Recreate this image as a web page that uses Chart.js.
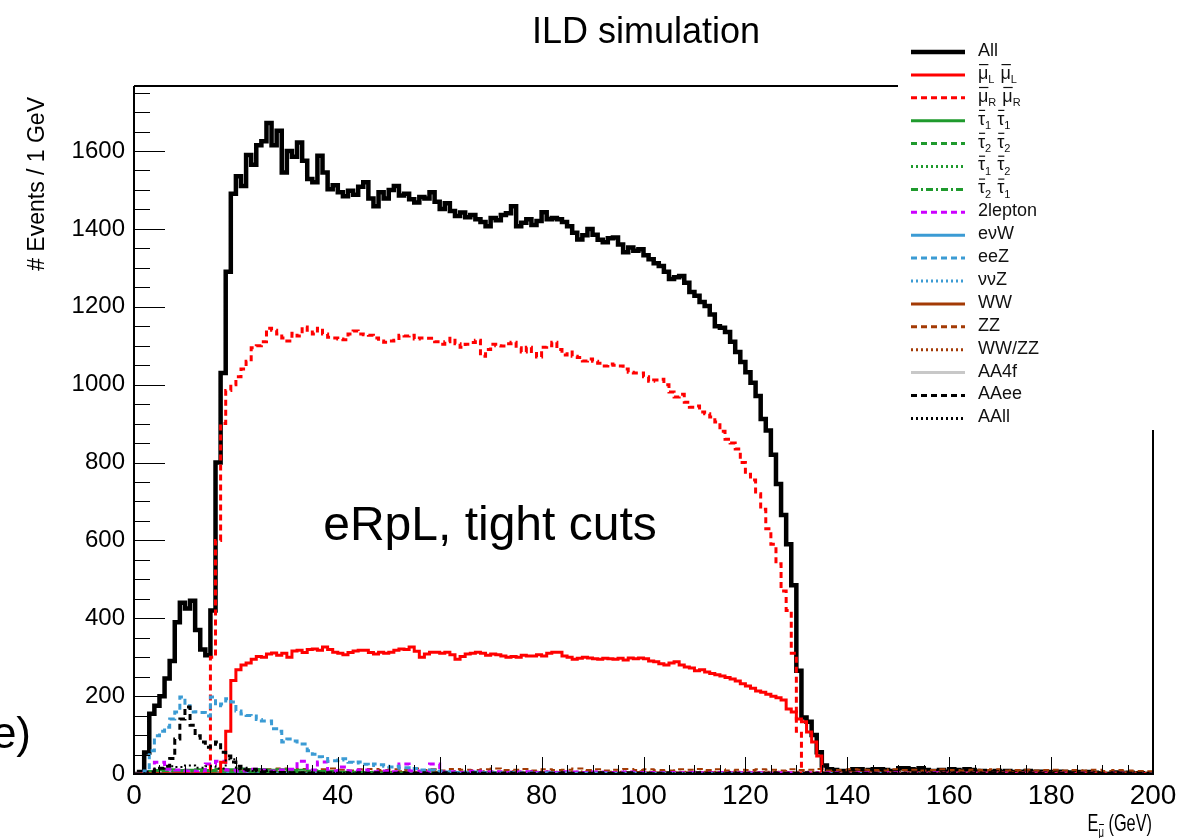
<!DOCTYPE html>
<html><head><meta charset="utf-8">
<script src="https://cdn.jsdelivr.net/npm/chart.js@4.4.1/dist/chart.umd.min.js"></script>
<style>html,body{margin:0;padding:0;background:#fff;overflow:hidden}</style>
</head><body>
<canvas id="c" width="1195" height="838"></canvas>
<script>
// ---------------- data (1 GeV bins unless noted) ----------------
const xTickLabels = [0,20,40,60,80,100,120,140,160,180,200];
const yTickLabels = [0,200,400,600,800,1000,1200,1400,1600];
const yMax = 1767;

const allEvents = [
0,5,55,155,175,200,245,290,390,440,
425,445,370,320,305,420,800,1030,1290,1490,
1535,1510,1590,1565,1615,1625,1672,1615,1652,1545,
1600,1585,1622,1575,1528,1520,1588,1545,1502,1512,
1494,1484,1498,1488,1508,1520,1478,1458,1494,1478,
1500,1510,1486,1490,1476,1468,1482,1478,1494,1470,
1451,1466,1446,1433,1442,1430,1436,1425,1418,1407,
1428,1422,1436,1440,1458,1407,1416,1425,1410,1420,
1443,1425,1428,1425,1418,1407,1390,1373,1384,1400,
1385,1372,1366,1376,1378,1360,1340,1352,1344,1348,
1332,1322,1312,1305,1290,1271,1276,1279,1262,1238,
1228,1212,1202,1180,1150,1146,1135,1110,1084,1058,
1032,1005,971,912,882,820,745,665,590,485,
265,145,134,100,56,22,12,10,8,8,
8,12,12,8,10,12,12,10,8,8,
15,15,12,10,15,10,8,8,10,6,
12,10,8,12,10,6,8,5,6,8,
5,8,5,4,6,8,5,6,4,5,
4,6,5,4,3,5,4,5,3,2,
0,0,4,3,0,3,0,2,0,0];

const smuLL = [
0,0,0,0,0,0,0,0,0,0,
0,0,0,0,0,0,0,30,110,240,
268,280,285,295,302,300,308,311,305,310,
300,316,318,312,320,321,318,326,320,313,
310,306,312,316,318,318,312,308,313,310,
313,318,321,320,326,315,300,308,313,313,
310,313,306,295,302,308,310,313,310,305,
308,306,303,300,302,300,305,303,303,306,
303,310,313,313,303,300,295,297,300,298,
296,295,297,296,295,297,293,298,296,298,
296,290,288,283,280,285,288,280,275,272,
265,268,262,258,255,252,248,244,239,232,
226,220,213,210,205,200,196,190,167,159,
141,134,108,82,46,0,0,0,0,0,
0,0,0,0,0,0,0,0,0,0, 0,0,0,0,0,0,0,0,0,0,
0,0,0,0,0,0,0,0,0,0, 0,0,0,0,0,0,0,0,0,0,
0,0,0,0,0,0,0,0,0,0, 0,0,0,0,0,0,0,0,0,0];

const smuRR = [
0,0,0,0,0,0,0,0,0,0,
0,0,0,0,0,300,600,900,985,1000,
1020,1040,1060,1095,1100,1110,1145,1140,1130,1120,
1112,1132,1125,1148,1140,1130,1145,1130,1122,1120,
1117,1115,1130,1138,1130,1128,1127,1120,1112,1109,
1112,1114,1127,1125,1127,1117,1120,1119,1119,1110,
1104,1110,1119,1105,1096,1104,1108,1114,1073,1090,
1104,1100,1099,1105,1109,1095,1084,1096,1085,1071,
1096,1100,1109,1090,1076,1084,1073,1070,1061,1066,
1060,1055,1048,1053,1050,1048,1040,1032,1030,1030,
1020,1009,1012,1014,1000,981,968,975,955,942,
945,930,925,917,904,880,860,850,835,800,
770,755,720,680,630,590,540,470,420,310,
110,0,0,0,0,0,0,0,0,0,
0,0,0,0,0,0,0,0,0,0, 0,0,0,0,0,0,0,0,0,0,
0,0,0,0,0,0,0,0,0,0, 0,0,0,0,0,0,0,0,0,0,
0,0,0,0,0,0,0,0,0,0, 0,0,0,0,0,0,0,0,0,0];

const eeZ = [
0,0,8,60,98,110,120,141,159,198,
175,159,160,158,149,198,175,180,193,185,
162,154,150,149,140,136,136,116,110,82,
90,85,82,77,60,51,44,40,33,34,
36,39,30,28,31,25,22,26,24,20,
18,20,15,16,12,14,10,8,10,6,
8,5,6,4,5,3,4,5,3,4,
3,4,2,3,4,2,3,2,3,2,
2,3,2,2,3,2,1,2,2,1,
2,1,2,1,1,2,1,1,2,1,
1,1,1,2,1,1,0,1,1,1,
1,0,1,1,0,1,0,1,1,0,
1,0,1,0,1,0,0,1,0,1,
0,1,0,0,1,0,0,1,0,0,
0,0,1,0,0,0,1,0,0,0, 0,0,0,1,0,0,0,0,0,0,
0,0,0,0,0,0,0,0,0,0, 0,0,0,0,0,0,0,0,0,0,
0,0,0,0,0,0,0,0,0,0, 0,0,0,0,0,0,0,0,0,0];

const AAee = [
0,0,0,5,10,15,20,40,90,141,
172,125,98,82,69,72,82,56,46,31,
20,15,10,12,8,6,5,4,3,4,
3,3,2,3,2,3,2,2,3,2,
2,3,2,2,3,2,2,3,2,2,
2,2,3,2,2,2,3,2,2,2,
2,3,2,2,2,2,3,2,2,2,
2,2,2,3,2,2,2,2,2,3,
2,2,2,2,3,2,2,2,2,2,
2,3,2,2,2,2,2,3,2,2,
2,2,2,2,3,2,2,2,2,2,
3,2,2,2,2,2,2,3,2,2,
2,2,2,2,2,3,2,2,2,2,
2,2,3,2,2,2,2,2,2,3,
2,2,2,2,2,2,3,2,2,2, 2,2,2,3,2,2,2,2,2,2,
2,3,2,2,2,2,2,2,3,2, 2,2,2,2,2,3,2,2,2,2,
2,2,2,3,2,2,2,2,2,2, 2,2,3,2,2,2,2,2,2,0];

// 2 GeV bins for the small backgrounds
const stau11 = [0,8,10,12,10,11,12,10,13,12,14,12,13,11,12,10,11,9,8,8,6,6,5,5,4,4,4,3,3,3,3,3,2,2,2,2,2,2,2,2,1,1,1,1,1,1,1,1,1,1,1,1,1,1,1,1,1,1,1,1,1,1,1,1,1,1,0,1,1,0,0,0,0,0,0,0,0,0,0,0,0,0,0,0,0,0,0,0,0,0,0,0,0,0,0,0,0,0,0,0];
const stau22 = [0,3,4,5,4,5,6,5,6,5,5,6,5,4,5,4,4,3,3,3,3,2,2,2,2,2,2,1,1,1,1,1,1,1,1,1,1,1,1,1,1,1,1,1,1,1,1,1,1,1,1,0,1,0,1,0,0,0,0,0,0,0,0,0,0,0,0,0,0,0,0,0,0,0,0,0,0,0,0,0,0,0,0,0,0,0,0,0,0,0,0,0,0,0,0,0,0,0,0,0];
const stau12 = [0,4,6,7,6,7,8,7,8,7,7,8,7,6,6,5,5,4,4,4,3,3,3,2,2,2,2,2,2,2,1,1,1,1,1,1,1,1,1,1,1,1,1,1,1,1,1,1,1,1,0,0,0,0,0,0,0,0,0,0,0,0,0,0,0,0,0,0,0,0,0,0,0,0,0,0,0,0,0,0,0,0,0,0,0,0,0,0,0,0,0,0,0,0,0,0,0,0,0,0];
const stau21 = [0,3,5,6,5,6,7,6,7,6,7,6,6,5,5,5,4,4,3,3,3,3,2,2,2,2,2,1,1,1,1,1,1,1,1,1,1,1,1,1,1,1,1,1,1,0,0,0,0,0,0,0,0,0,0,0,0,0,0,0,0,0,0,0,0,0,0,0,0,0,0,0,0,0,0,0,0,0,0,0,0,0,0,0,0,0,0,0,0,0,0,0,0,0,0,0,0,0,0,0];
const twoLepton = [0,5,30,12,10,8,6,26,33,10,8,12,10,8,10,12,33,10,31,8,18,8,10,6,8,6,26,8,6,26,5,6,4,7,5,6,4,5,6,4,5,4,6,5,4,5,4,3,5,4,4,3,4,3,4,3,3,4,3,3,3,3,2,3,3,2,3,2,3,2,2,3,2,2,3,2,2,2,3,2,2,2,2,2,2,2,1,2,2,2,1,2,1,2,1,1,2,1,1,0];
const enuW = [0,2,3,4,3,4,4,5,4,4,5,4,4,4,3,4,3,3,3,3,3,2,3,2,2,2,2,2,2,2,2,1,2,1,1,1,1,1,1,1,1,1,1,1,1,1,1,1,1,1,1,1,1,1,1,1,1,1,1,0,1,0,1,0,0,0,0,0,0,0,0,0,0,0,0,0,0,0,0,0,0,0,0,0,0,0,0,0,0,0,0,0,0,0,0,0,0,0,0,0];
const nunuZ = [0,3,5,6,6,7,6,7,6,6,7,6,5,6,5,5,4,5,4,4,4,3,3,3,3,3,2,2,2,2,2,2,2,1,2,1,1,1,1,1,1,1,1,1,1,1,1,1,1,1,1,1,1,1,1,1,1,1,1,1,0,1,0,1,0,0,0,0,0,0,0,0,0,0,0,0,0,0,0,0,0,0,0,0,0,0,0,0,0,0,0,0,0,0,0,0,0,0,0,0];
const WW = [0,2,3,3,4,4,4,5,4,5,5,4,5,5,4,5,5,4,5,5,4,5,4,5,5,4,5,4,4,5,4,5,4,4,5,4,4,5,4,4,5,4,4,4,5,4,4,4,4,5,4,4,4,4,4,4,5,4,4,4,4,4,4,4,4,4,3,4,4,3,4,4,3,4,4,3,4,3,4,3,4,3,3,4,3,3,3,4,3,3,3,3,3,3,3,2,3,3,2,2];
const ZZ = [0,3,5,6,7,8,9,10,12,10,11,13,10,12,14,11,13,10,12,14,11,9,12,13,10,12,11,14,10,12,9,13,11,10,12,14,10,11,13,9,12,10,11,14,10,12,9,11,13,10,12,10,9,12,11,13,10,12,9,11,10,12,11,9,12,10,11,13,9,10,12,11,10,9,12,10,11,9,10,12,10,9,11,10,12,9,10,11,9,10,11,9,10,9,11,8,10,9,8,7];
const WWZZ = [0,2,3,4,5,5,6,6,7,6,7,6,7,7,6,7,6,7,6,7,6,7,7,6,7,6,7,6,6,7,6,7,6,6,7,6,6,7,6,6,7,6,6,6,7,6,6,6,6,7,6,6,6,6,6,6,6,5,6,6,6,5,6,6,5,6,6,5,6,5,6,5,6,5,5,6,5,5,6,5,5,5,5,6,5,5,5,5,5,5,4,5,5,4,5,4,4,4,4,3];
const AA4f = [0,1,2,2,2,2,2,2,2,2,2,2,2,2,1,2,1,2,1,1,1,1,1,1,1,1,1,1,1,1,1,1,1,1,1,1,1,1,1,1,1,1,1,1,1,1,1,1,1,1,1,1,1,1,1,1,1,1,1,1,1,1,1,1,1,1,1,1,1,1,1,1,1,1,1,1,1,1,1,1,1,1,1,1,1,1,1,1,1,1,1,1,1,1,1,1,1,1,1,0];
const AAll = [0,6,14,20,18,22,16,20,14,38,12,8,10,6,5,4,4,3,3,3,3,2,2,2,2,2,2,2,2,2,2,2,2,2,2,2,2,2,2,2,2,2,2,2,2,2,2,2,2,2,2,2,2,2,2,2,2,2,2,2,2,2,2,2,2,2,2,2,2,2,2,2,2,2,2,2,2,2,2,2,2,2,2,2,2,2,2,2,2,2,2,2,2,2,2,2,2,2,2,0];

// ---------------- styles ----------------
const GREEN = '#1f9a2d', BLUE = '#3b9bd4', BROWN = '#a33a05', MAGENTA = '#cc00ff';
const DASH = [6,4], DOT = [2,3], DASHDOT = [7,3,2,3];

function histPoints(vals, width) {
  const pts = vals.map((v, i) => ({x: i * width, y: v}));
  pts.push({x: vals.length * width, y: vals[vals.length - 1]});
  return pts;
}

// legend markup: "~X" = X with bar above, "_X" = subscript X
const series = [
  {label:'All',     data: allEvents, w:1, color:'#000',   lw:4.5, dash:[],      order:100, leg:'All'},
  {label:'smuLL',   data: smuLL,     w:1, color:'#ff0000',lw:3,   dash:[],      order:20, leg:'~μ_L ~μ_L'},
  {label:'smuRR',   data: smuRR,     w:1, color:'#ff0000',lw:3,   dash:DASH,    order:19, leg:'~μ_R ~μ_R'},
  {label:'stau11',  data: stau11,    w:2, color:GREEN,    lw:2,   dash:[],      order:30, leg:'~τ_1 ~τ_1'},
  {label:'stau22',  data: stau22,    w:2, color:GREEN,    lw:2,   dash:DASH,    order:31, leg:'~τ_2 ~τ_2'},
  {label:'stau12',  data: stau12,    w:2, color:GREEN,    lw:2,   dash:DOT,     order:32, leg:'~τ_1 ~τ_2'},
  {label:'stau21',  data: stau21,    w:2, color:GREEN,    lw:2,   dash:DASHDOT, order:33, leg:'~τ_2 ~τ_1'},
  {label:'2lepton', data: twoLepton, w:2, color:MAGENTA,  lw:3,   dash:DASH,    order:25, leg:'2lepton'},
  {label:'enuW',    data: enuW,      w:2, color:BLUE,     lw:2,   dash:[],      order:34, leg:'eνW'},
  {label:'eeZ',     data: eeZ,       w:1, color:BLUE,     lw:3,   dash:DASH,    order:18, leg:'eeZ'},
  {label:'nunuZ',   data: nunuZ,     w:2, color:BLUE,     lw:2,   dash:DOT,     order:35, leg:'ννZ'},
  {label:'WW',      data: WW,        w:2, color:BROWN,    lw:2,   dash:[],      order:36, leg:'WW'},
  {label:'ZZ',      data: ZZ,        w:2, color:BROWN,    lw:2,   dash:DASH,    order:37, leg:'ZZ'},
  {label:'WW/ZZ',   data: WWZZ,      w:2, color:BROWN,    lw:2,   dash:DOT,     order:38, leg:'WW/ZZ'},
  {label:'AA4f',    data: AA4f,      w:2, color:'#c8c8c8',lw:2.5, dash:[],      order:40, leg:'AA4f'},
  {label:'AAee',    data: AAee,      w:1, color:'#000',   lw:3,   dash:DASH,    order:17, leg:'AAee'},
  {label:'AAll',    data: AAll,      w:2, color:'#000',   lw:2,   dash:DOT,     order:16, leg:'AAll'}
];

const datasets = series.map(s => ({
  label: s.label,
  data: histPoints(s.data, s.w),
  borderColor: s.color,
  borderWidth: s.lw,
  borderDash: s.dash,
  stepped: 'before',
  pointRadius: 0,
  fill: false,
  order: s.order,
  borderCapStyle: 'butt',
  borderJoinStyle: 'miter'
}));

const FONT = '"Liberation Sans", Arial, Helvetica, sans-serif';

function drawRich(ctx, str, x, y, size) {
  let cx = x;
  let i = 0;
  while (i < str.length) {
    const c = str[i];
    if (c === '_' && i + 1 < str.length) {
      ctx.font = Math.round(size * 0.62) + 'px ' + FONT;
      ctx.fillText(str[i + 1], cx, y + size * 0.35);
      cx += ctx.measureText(str[i + 1]).width + 1;
      i += 2;
    } else if (c === '~' && i + 1 < str.length) {
      ctx.font = size + 'px ' + FONT;
      const ch = str[i + 1];
      const w = ctx.measureText(ch).width;
      ctx.fillText(ch, cx, y);
      ctx.fillRect(cx + 1, y - size * 0.55, w - 1, 1.2);
      cx += w;
      i += 2;
    } else {
      ctx.font = size + 'px ' + FONT;
      ctx.fillText(c, cx, y);
      cx += ctx.measureText(c).width;
      i += 1;
    }
  }
  return cx;
}

const decorPlugin = {
  id: 'decor',
  afterDraw(chart) {
    const {ctx, chartArea: a, scales: {x, y}} = chart;
    ctx.save();
    // inner ticks
    ctx.strokeStyle = '#000';
    ctx.lineWidth = 1;
    ctx.beginPath();
    for (let v = 0; v <= yMax; v += 50) {
      const py = Math.round(y.getPixelForValue(v)) + 0.5;
      const len = (v % 200 === 0) ? 31 : 16;
      ctx.moveTo(a.left, py); ctx.lineTo(a.left + len, py);
    }
    for (let v = 0; v <= 200; v += 5) {
      const px = Math.round(x.getPixelForValue(v)) + 0.5;
      const len = (v % 20 === 0) ? 17 : 9;
      ctx.moveTo(px, a.bottom); ctx.lineTo(px, a.bottom - len);
    }
    ctx.stroke();
    // frame
    ctx.lineWidth = 2;
    ctx.beginPath();
    ctx.moveTo(a.left, a.top); ctx.lineTo(a.left, a.bottom); ctx.lineTo(a.right, a.bottom);
    ctx.lineTo(a.right, 430);
    ctx.moveTo(a.left, a.top); ctx.lineTo(898, a.top);
    ctx.stroke();

    // legend
    for (let r = 0; r < series.length; r++) {
      const s = series[r];
      const ly = 52 + r * 22.9;
      ctx.beginPath();
      ctx.strokeStyle = s.color;
      ctx.lineWidth = r === 0 ? 4.5 : 3;
      ctx.setLineDash(s.dash);
      ctx.moveTo(911, ly); ctx.lineTo(965, ly);
      ctx.stroke();
      ctx.setLineDash([]);
      ctx.fillStyle = '#111';
      ctx.textBaseline = 'middle';
      ctx.textAlign = 'left';
      drawRich(ctx, s.leg, 978, ly - 1, 18);
    }

    // texts
    ctx.fillStyle = '#000';
    ctx.textBaseline = 'alphabetic';
    ctx.textAlign = 'center';
    ctx.font = '36px ' + FONT;
    ctx.fillText('ILD simulation', 646, 43);
    ctx.font = '48px ' + FONT;
    ctx.fillText('eRpL, tight cuts', 490, 540);
    ctx.textAlign = 'right';
    ctx.font = '44px ' + FONT;
    ctx.fillText('e)', 31, 748);

    // y title (rotated, aligned to top)
    ctx.save();
    ctx.translate(44, 97);
    ctx.rotate(-Math.PI / 2);
    ctx.textAlign = 'right';
    ctx.font = '23px ' + FONT;
    ctx.fillText('# Events / 1 GeV', 0, 0);
    ctx.restore();

    // x title (condensed, right aligned at frame edge)
    ctx.save();
    ctx.textAlign = 'left';
    const sx = 0.68;
    ctx.font = '24px ' + FONT;
    const wE = ctx.measureText('E').width;
    const wG = ctx.measureText(' (GeV)').width;
    ctx.font = '14px ' + FONT;
    const wM = ctx.measureText('μ').width;
    const total = (wE + wM + wG) * sx;
    ctx.translate(1152 - total, 831);
    ctx.scale(sx, 1);
    let cx = 0;
    ctx.font = '24px ' + FONT;
    ctx.fillText('E', cx, 0);
    cx += wE;
    ctx.font = '14px ' + FONT;
    ctx.fillText('μ', cx, 6);
    ctx.fillRect(cx + 1, -7, wM - 1, 1);
    cx += wM;
    ctx.font = '24px ' + FONT;
    ctx.fillText(' (GeV)', cx, 0);
    ctx.restore();
    ctx.restore();
  }
};

new Chart(document.getElementById('c'), {
  type: 'line',
  data: {datasets},
  options: {
    responsive: false,
    animation: false,
    devicePixelRatio: 1,
    layout: {padding: {left: 0, right: 42, top: 86, bottom: 0}},
    plugins: {legend: {display: false}, tooltip: {enabled: false}, title: {display: false}},
    scales: {
      x: {
        type: 'linear', min: 0, max: 200,
        grid: {display: false, drawTicks: false},
        border: {display: false},
        ticks: {color: '#000', font: {size: 28, family: FONT}, padding: 5, maxRotation: 0, autoSkip: false,
                callback: v => String(v)},
        afterBuildTicks: sc => { sc.ticks = xTickLabels.map(v => ({value: v})); },
        afterFit: sc => { sc.height = 64; }
      },
      y: {
        type: 'linear', min: 0, max: yMax,
        grid: {display: false, drawTicks: false},
        border: {display: false},
        ticks: {color: '#000', font: {size: 24, family: FONT}, padding: 9, autoSkip: false,
                callback: v => String(v)},
        afterBuildTicks: sc => { sc.ticks = yTickLabels.map(v => ({value: v})); },
        afterFit: sc => { sc.width = 134; }
      }
    }
  },
  plugins: [decorPlugin]
});
</script>
</body></html>
